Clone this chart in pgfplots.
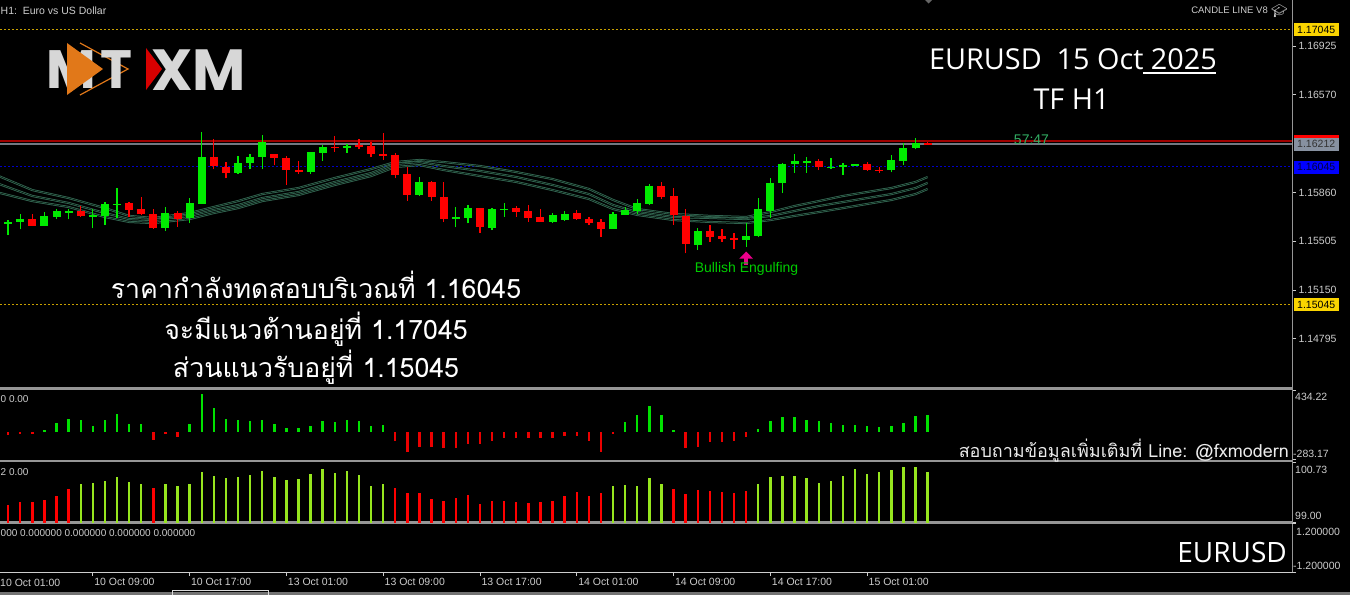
\documentclass[border=0pt]{standalone}
\usepackage{pgfplots}
\usepackage{pgfplotstable}
\pgfplotsset{compat=1.18}
\usepackage{fontspec}
\usetikzlibrary{arrows.meta}
\setmainfont{Liberation Sans}
\newfontfamily\thaifont[Script=Thai]{Loma}
\newfontfamily\titlefont{Open Sans}
\newfontfamily\logofont{Poppins}
\newfontfamily\emojifont{Noto Emoji}

\definecolor{cgreen}{RGB}{0,235,0}
\definecolor{cred}{RGB}{255,0,0}
\definecolor{maouter}{RGB}{55,110,88}
\definecolor{mainner}{RGB}{5,20,12}
\definecolor{lblgray}{RGB}{205,205,205}
\definecolor{sepgray}{RGB}{150,150,150}
\definecolor{gold}{RGB}{200,160,0}
\definecolor{tagyellow}{RGB}{250,212,0}
\definecolor{hlime}{RGB}{150,230,30}
\definecolor{pgreen}{RGB}{0,225,0}
\definecolor{pred}{RGB}{235,0,0}
\definecolor{bidgray}{RGB}{115,120,130}
\definecolor{askred}{RGB}{160,0,0}
\definecolor{tagblue}{RGB}{0,0,255}
\definecolor{taggray}{RGB}{135,145,160}
\definecolor{logogray}{RGB}{215,215,215}
\definecolor{logoorange}{RGB}{225,120,25}
\definecolor{logored}{RGB}{215,0,0}
\definecolor{timer}{RGB}{50,175,100}

% candles: index O H L C
\pgfplotstableread{
i O H L C
0 1.15634 1.15674 1.15608 1.15641
1 1.15630 1.15659 1.15550 1.15647
2 1.15642 1.15701 1.15591 1.15666
4 1.15616 1.15720 1.15614 1.15689
5 1.15684 1.15739 1.15666 1.15725
6 1.15712 1.15739 1.15664 1.15727
8 1.15687 1.15737 1.15598 1.15694
9 1.15691 1.15790 1.15623 1.15773
10 1.15772 1.15892 1.15674 1.15779
14 1.15598 1.15751 1.15581 1.15712
16 1.15676 1.15817 1.15635 1.15781
17 1.15776 1.16299 1.15774 1.16120
20 1.16004 1.16125 1.15994 1.16072
21 1.16072 1.16139 1.16028 1.16120
22 1.16120 1.16275 1.16028 1.16229
26 1.16006 1.16154 1.15994 1.16152
27 1.16149 1.16203 1.16091 1.16188
29 1.16183 1.16210 1.16149 1.16198
35 1.15841 1.15970 1.15834 1.15934
38 1.15672 1.15754 1.15606 1.15679
39 1.15676 1.15768 1.15635 1.15744
41 1.15598 1.15744 1.15586 1.15737
42 1.15733 1.15785 1.15684 1.15740
46 1.15647 1.15708 1.15640 1.15696
47 1.15659 1.15725 1.15654 1.15703
51 1.15596 1.15720 1.15594 1.15701
52 1.15696 1.15751 1.15694 1.15732
53 1.15725 1.15810 1.15701 1.15781
54 1.15773 1.15921 1.15771 1.15909
58 1.15477 1.15603 1.15441 1.15579
62 1.15514 1.15640 1.15465 1.15545
63 1.15543 1.15821 1.15534 1.15737
64 1.15725 1.15963 1.15676 1.15931
65 1.15931 1.16072 1.15858 1.16064
66 1.16067 1.16139 1.16004 1.16086
67 1.16080 1.16116 1.16004 1.16087
69 1.16040 1.16108 1.16030 1.16047
70 1.16049 1.16076 1.15987 1.16056
71 1.16058 1.16067 1.16054 1.16065
74 1.16023 1.16132 1.16006 1.16096
75 1.16091 1.16217 1.16059 1.16185
76 1.16181 1.16254 1.16174 1.16217
}\greentab

\pgfplotstableread{
i O H L C
3 1.15666 1.15705 1.15614 1.15616
7 1.15727 1.15761 1.15684 1.15689
11 1.15781 1.15790 1.15684 1.15732
12 1.15737 1.15824 1.15696 1.15703
13 1.15703 1.15737 1.15596 1.15598
15 1.15708 1.15727 1.15611 1.15664
18 1.16120 1.16246 1.16028 1.16052
19 1.16047 1.16083 1.15963 1.16004
23 1.16139 1.16141 1.16059 1.16112
24 1.16112 1.16125 1.15914 1.16023
25 1.16023 1.16091 1.15994 1.16006
28 1.16191 1.16270 1.16156 1.16184
30 1.16203 1.16246 1.16174 1.16193
31 1.16198 1.16229 1.16116 1.16139
32 1.16139 1.16290 1.16096 1.16130
33 1.16132 1.16149 1.15963 1.15987
34 1.15994 1.16043 1.15800 1.15841
36 1.15934 1.15945 1.15800 1.15824
37 1.15824 1.15934 1.15644 1.15669
40 1.15744 1.15746 1.15567 1.15606
43 1.15744 1.15761 1.15684 1.15720
44 1.15725 1.15766 1.15647 1.15676
45 1.15679 1.15737 1.15645 1.15647
48 1.15708 1.15732 1.15662 1.15664
49 1.15669 1.15684 1.15623 1.15640
50 1.15647 1.15664 1.15538 1.15596
55 1.15909 1.15936 1.15812 1.15829
56 1.15834 1.15890 1.15623 1.15696
57 1.15689 1.15737 1.15417 1.15482
59 1.15579 1.15623 1.15501 1.15538
60 1.15543 1.15591 1.15501 1.15519
61 1.15525 1.15567 1.15448 1.15518
68 1.16086 1.16101 1.16023 1.16043
72 1.16064 1.16083 1.16018 1.16021
73 1.16026 1.16043 1.16004 1.16019
77 1.16219 1.16225 1.16210 1.16212
}\redtab

% moving-average envelope (upper, middle, lower)
\pgfplotstableread{
i A B C
0 1.15987 1.15929 1.15863
3 1.15877 1.15834 1.15797
6 1.15819 1.15783 1.15754
9 1.15746 1.15710 1.15681
11 1.15689 1.15666 1.15645
13 1.15674 1.15659 1.15637
16 1.15710 1.15689 1.15666
18 1.15754 1.15732 1.15710
20 1.15797 1.15768 1.15746
22 1.15848 1.15819 1.15797
25 1.15892 1.15863 1.15841
28 1.15965 1.15936 1.15914
31 1.16030 1.16001 1.15979
33 1.16081 1.16067 1.16045
35 1.16096 1.16081 1.16059
37 1.16081 1.16052 1.16023
40 1.16052 1.16016 1.15979
43 1.16008 1.15972 1.15936
46 1.15957 1.15914 1.15877
49 1.15885 1.15848 1.15812
51 1.15805 1.15768 1.15739
53 1.15739 1.15717 1.15696
56 1.15703 1.15681 1.15659
59 1.15689 1.15674 1.15645
62 1.15681 1.15666 1.15637
64 1.15717 1.15689 1.15659
66 1.15761 1.15725 1.15689
68 1.15797 1.15761 1.15717
70 1.15834 1.15790 1.15746
72 1.15863 1.15819 1.15776
74 1.15892 1.15848 1.15805
76 1.15936 1.15892 1.15848
77 1.15972 1.15929 1.15885
}\matab

\pgfplotsset{
  mtaxis/.style={
    scale only axis, width=1292pt, xmin=0.33, xmax=107.11,
    anchor=north west,
    axis y line*=right,
    y axis line style={draw=sepgray, line width=1pt, -},
    tick align=outside, major tick length=4pt,
    ytick style={draw=lblgray, line width=0.7pt},
    yticklabel style={font=\fontsize{10.5}{12}\selectfont, text=lblgray, xshift=-1pt},
    scaled y ticks=false,
  },
  noxaxis/.style={axis x line=none, xtick=\empty},
  wick/.style={draw=none, mark=none, forget plot,
    error bars/.cd, y dir=plus, y explicit, error mark=none,
    error bar style={draw=#1, line width=1.3pt}},
  body/.style={draw=none, mark=none, forget plot,
    error bars/.cd, y dir=both, y explicit, error mark=none,
    error bar style={draw=#1, line width=8pt}},
}

\begin{document}
\begin{tikzpicture}[x=1pt,y=1pt]
\useasboundingbox (0,0) rectangle (1350,-595);
\fill[black] (0,0) rectangle (1350,-595);
% panel separators
\fill[sepgray] (0,-387) rectangle (1293,-390);
\fill[sepgray] (0,-459.5) rectangle (1293,-462);
\fill[sepgray] (0,-521) rectangle (1293,-523.5);
% bottom tab bar
\fill[black!55] (0,-592) rectangle (1350,-595);
\draw[white!85!black, line width=0.8pt] (172,-595) -- (172,-590) -- (268,-590) -- (268,-595);

% ---------------- main price panel ----------------
\begin{axis}[mtaxis, noxaxis, at={(0pt,0pt)}, height=387pt,
  ymin=1.14444, ymax=1.17260,
  ytick={1.14795,1.15150,1.15505,1.15860,1.16570,1.16925},
  yticklabels={1.14795,1.15150,1.15505,1.15860,1.16570,1.16925}]
% level lines
\addplot[gold, line width=1pt, dash pattern=on 2pt off 2pt] coordinates {(0.33,1.17045) (107.11,1.17045)};
\addplot[gold, line width=1pt, dash pattern=on 2pt off 2pt] coordinates {(0.33,1.15045) (107.11,1.15045)};
\addplot[tagblue!80!black, line width=1pt, dash pattern=on 2pt off 2pt] coordinates {(0.33,1.16045) (107.11,1.16045)};
\addplot[askred, line width=1.8pt] coordinates {(0.33,1.16232) (107.11,1.16232)};
\addplot[bidgray, line width=1.2pt] coordinates {(0.33,1.16212) (107.11,1.16212)};
% envelope
\addplot[maouter, line width=2.1pt] table[x=i,y=A] {\matab};
\addplot[mainner, line width=0.6pt] table[x=i,y=A] {\matab};
\addplot[maouter, line width=2.1pt] table[x=i,y=B] {\matab};
\addplot[mainner, line width=0.6pt] table[x=i,y=B] {\matab};
\addplot[maouter, line width=2.1pt] table[x=i,y=C] {\matab};
\addplot[mainner, line width=0.6pt] table[x=i,y=C] {\matab};
% candles
\addplot[wick=cgreen] table[x=i, y=L, y error expr=\thisrow{H}-\thisrow{L}] {\greentab};
\addplot[wick=cred] table[x=i, y=L, y error expr=\thisrow{H}-\thisrow{L}] {\redtab};
\addplot[body=cgreen] table[x=i, y expr=0.5*(\thisrow{O}+\thisrow{C}), y error expr=0.5*abs(\thisrow{C}-\thisrow{O})] {\greentab};
\addplot[body=cred] table[x=i, y expr=0.5*(\thisrow{O}+\thisrow{C}), y error expr=0.5*abs(\thisrow{C}-\thisrow{O})] {\redtab};
% pattern arrow
\addplot[magenta, line width=4pt, -{Triangle[width=13pt,length=7pt]}] coordinates {(62,1.15332) (62,1.15430)};
\end{axis}

% ---------------- oscillator panel ----------------
\begin{axis}[mtaxis, noxaxis, at={(0pt,-390pt)}, height=69.5pt,
  ymin=-283.17, ymax=434.22, ytick={-283.17,434.22}, yticklabels={,}]
\addplot[ycomb, pgreen, line width=2.4pt] coordinates {
(4,17) (5,94) (6,139) (7,128) (8,66) (9,121) (10,191) (11,87) (12,83) (16,83)
(17,389) (18,246) (19,139) (20,121) (21,111) (22,121) (23,83) (24,42) (25,42) (26,59)
(27,111) (28,104) (29,121) (30,118) (31,59) (32,69) (52,104) (53,180) (54,267) (55,180)
(56,24) (63,31) (64,111) (65,156) (66,156) (67,128) (68,111) (69,94) (70,76) (71,76)
(72,66) (73,49) (74,66) (75,94) (76,163) (77,180)};
\addplot[ycomb, pred, line width=2.4pt] coordinates {
(1,-35) (2,-21) (3,-17) (13,-80) (14,-21) (15,-55) (33,-97) (34,-201) (35,-149) (36,-149)
(37,-166) (38,-166) (39,-121) (40,-121) (41,-87) (42,-62) (43,-62) (44,-62) (45,-62) (46,-62)
(47,-45) (48,-45) (49,-90) (50,-208) (51,-21) (57,-166) (58,-149) (59,-104) (60,-104) (61,-97)
(62,-55)};
\end{axis}

% ---------------- histogram panel ----------------
\begin{axis}[mtaxis, noxaxis, at={(0pt,-462pt)}, height=60.5pt,
  ymin=99.00, ymax=100.73, ytick={99.00,100.73}, yticklabels={,}]
\addplot[ycomb, hlime, line width=2.4pt] coordinates {
(7,100.11) (8,100.14) (9,100.18) (10,100.31) (11,100.16) (12,100.09) (14,100.09) (15,100.05)
(16,100.11) (17,100.44) (18,100.33) (19,100.26) (20,100.31) (21,100.37) (22,100.48) (23,100.30)
(24,100.22) (25,100.24) (26,100.39) (27,100.53) (28,100.42) (29,100.46) (30,100.36) (31,100.04)
(32,100.09) (51,100.04) (52,100.07) (53,100.04) (54,100.28) (55,100.11) (63,100.09) (64,100.31)
(65,100.33) (66,100.33) (67,100.28) (68,100.14) (69,100.19) (70,100.33) (71,100.53) (72,100.39)
(73,100.44) (74,100.51) (75,100.59) (76,100.59) (77,100.44)};
\addplot[ycomb, cred, line width=2.4pt] coordinates {
(1,99.49) (2,99.58) (3,99.58) (4,99.63) (5,99.75) (6,99.95) (13,100.00) (33,99.99)
(34,99.83) (35,99.85) (36,99.66) (37,99.62) (38,99.71) (39,99.78) (40,99.53) (41,99.62)
(42,99.62) (43,99.60) (44,99.55) (45,99.60) (46,99.62) (47,99.75) (48,99.86) (49,99.75)
(50,99.83) (56,99.97) (57,99.81) (58,99.92) (59,99.89) (60,99.87) (61,99.85) (62,99.89)};
\end{axis}

% ---------------- empty bottom panel with time axis ----------------
\begin{axis}[mtaxis, at={(0pt,-523.5pt)}, height=48.5pt,
  ymin=-1.2, ymax=1.2, ytick={-1.2,1.2}, yticklabels={,},
  axis x line*=bottom, x axis line style={draw=lblgray, line width=1pt, -},
  xtick={8,16,24,32,40,48,56,64,72},
  xticklabels={10 Oct 09:00,10 Oct 17:00,13 Oct 01:00,13 Oct 09:00,13 Oct 17:00,14 Oct 01:00,14 Oct 09:00,14 Oct 17:00,15 Oct 01:00},
  xtick style={draw=lblgray, line width=0.7pt},
  xticklabel style={font=\fontsize{10.5}{12}\selectfont, text=lblgray, anchor=north west, xshift=-2pt, yshift=1pt}]
\addplot[draw=none, mark=none] coordinates {(1,0) (77,0)};
\end{axis}

% ---------------- texts ----------------
\begin{scope}[every node/.style={inner sep=0pt}]
\node[anchor=base west, font=\fontsize{10.5}{12}\selectfont, text=lblgray] at (0,-586) {10 Oct 01:00};
% right tags
\node[anchor=west, fill=tagyellow, text=black, font=\fontsize{10.5}{12}\selectfont, minimum width=45pt, minimum height=13pt] at (1293.5,-29.5) {1.17045};
\node[anchor=west, fill=tagyellow, text=black, font=\fontsize{10.5}{12}\selectfont, minimum width=45pt, minimum height=13pt] at (1293.5,-304.5) {1.15045};
\fill[cred] (1293.5,-135) rectangle (1338.5,-139);
\node[anchor=west, fill=taggray, text=black!80, font=\fontsize{10.5}{12}\selectfont, minimum width=45pt, minimum height=13pt] at (1293.5,-144.3) {1.16212};
\node[anchor=west, fill=tagblue, text=black!75!blue, font=\fontsize{10.5}{12}\selectfont, minimum width=45pt, minimum height=13pt] at (1293.5,-167) {1.16045};
% panel scale labels
\node[anchor=base west, font=\fontsize{10.5}{12}\selectfont, text=lblgray] at (1295,-400) {434.22};
\node[anchor=base west, font=\fontsize{10.5}{12}\selectfont, text=lblgray] at (1293,-457.5) {-283.17};
\node[anchor=base west, font=\fontsize{10.5}{12}\selectfont, text=lblgray] at (1295,-473) {100.73};
\node[anchor=base west, font=\fontsize{10.5}{12}\selectfont, text=lblgray] at (1295,-519) {99.00};
\node[anchor=base west, font=\fontsize{10.5}{12}\selectfont, text=lblgray] at (1296,-535) {1.200000};
\node[anchor=base west, font=\fontsize{10.5}{12}\selectfont, text=lblgray] at (1293,-569) {-1.200000};
% panel titles on the left
\node[anchor=base west, font=\fontsize{10}{12}\selectfont, text=lblgray] at (0.5,-402) {0 0.00};
\node[anchor=base west, font=\fontsize{10}{12}\selectfont, text=lblgray] at (0.5,-475) {2 0.00};
\node[anchor=base west, font=\fontsize{10}{12}\selectfont, text=lblgray] at (0.5,-536) {000 0.000000 0.000000 0.000000 0.000000};
% header
\node[anchor=base west, font=\fontsize{10.5}{12}\selectfont, text=lblgray] at (0.5,-14.5) {H1:\ \ Euro vs US Dollar};
\node[anchor=base east, font=\fontsize{9.5}{12}\selectfont, text=lblgray] at (1268,-13.5) {CANDLE LINE V8};
\node[anchor=base west, font=\emojifont\fontsize{13}{14}\selectfont, text=lblgray] at (1271,-15) {🎓};
\fill[black!60] (925,0) -- (928.5,-3.5) -- (932,0) -- cycle;
% title
\node[anchor=base west, font=\titlefont\fontsize{28.8}{32}\selectfont, text=white] at (929,-69.3) {EURUSD\ \ 15 Oct\ 2025};
\draw[white, line width=1.6pt] (1143,-72.8) -- (1216,-72.8);
\node[anchor=base, font=\titlefont\fontsize{28.8}{32}\selectfont, text=white] at (1071.5,-109) {TF H1};
% timer
\node[anchor=center, font=\fontsize{14}{16}\selectfont, text=timer] at (1031.5,-140) {57:47};
% pattern label
\node[anchor=base, font=\fontsize{14}{16}\selectfont, text=green!80!black] at (746.5,-272) {Bullish Engulfing};
% Thai notes
\node[anchor=base, font=\thaifont\fontsize{26.7}{32}\selectfont, text=white] at (316,-298.3) {ราคากำลังทดสอบบริเวณที่ 1.16045};
\node[anchor=base, font=\thaifont\fontsize{26.7}{32}\selectfont, text=white] at (316,-339) {จะมีแนวต้านอยู่ที่ 1.17045};
\node[anchor=base, font=\thaifont\fontsize{26.7}{32}\selectfont, text=white] at (316,-377) {ส่วนแนวรับอยู่ที่ 1.15045};
\node[anchor=base east, font=\thaifont\fontsize{18}{20}\selectfont, text=white!92!black] at (1289,-457) {สอบถามข้อมูลเพิ่มเติมที่ Line: @fxmodern};
\node[anchor=base east, font=\titlefont\fontsize{28}{30}\selectfont, text=white] at (1287,-562) {EURUSD};
% logo
\node[anchor=base west, font=\logofont\bfseries\fontsize{54}{56}\selectfont, text=logogray] at (46,-88) {M};
\fill[logoorange] (67,-43) -- (103,-69) -- (67,-95) -- cycle;
\draw[logoorange, line width=1.2pt] (80,-43) -- (128,-69) -- (80,-95);
\node[anchor=base west, font=\logofont\bfseries\fontsize{54}{56}\selectfont, text=logogray] at (100,-88) {T};
\fill[logored] (146,-48) -- (162,-69) -- (146,-90) -- cycle;
\node[anchor=base west, font=\logofont\bfseries\fontsize{58}{60}\selectfont, text=logogray] at (151,-90) {XM};
\end{scope}
\end{tikzpicture}
\end{document}
